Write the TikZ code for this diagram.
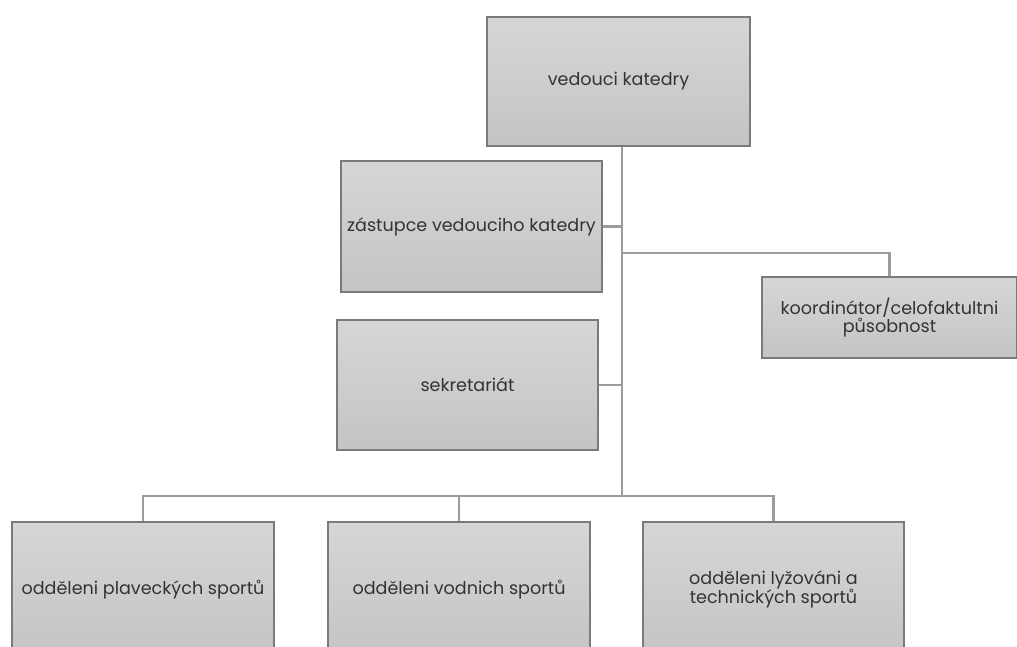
\documentclass[tikz,border=0pt]{standalone}
\usepackage{fontspec}
\setmainfont{Poppins}
\usepackage{tikz}
\definecolor{boxline}{HTML}{7A7A7A}
\definecolor{boxtop}{HTML}{D6D6D6}
\definecolor{boxbot}{HTML}{C4C4C4}
\definecolor{wire}{HTML}{9C9C9C}
\tikzset{
  orgbox/.style={draw=boxline, line width=0.9pt, top color=boxtop, bottom color=boxbot,
    align=center, inner sep=1pt, font=\fontsize{10}{10.8}\selectfont\color{black!80}},
  wireline/.style={draw=wire, line width=1.3pt}
}
\begin{document}
\begin{tikzpicture}[x=0.02cm,y=-0.02cm]
\useasboundingbox (0,0) rectangle (1017,646);
\node[orgbox, minimum width=5.26cm, minimum height=2.58cm] (chief) at(618.5,81.5) {vedouci katedry};
\node[orgbox, minimum width=5.22cm, minimum height=2.62cm] (deputy) at(471.5,226.5) {zástupce vedouciho katedry};
\node[orgbox, minimum width=5.22cm, minimum height=2.6cm] (secr) at(467.5,385) {sekretariát};
\node[orgbox, minimum width=5.1cm, minimum height=1.62cm] (coord) at(889.5,317.5) {koordinátor/celofaktultni\\působnost};
\node[orgbox, minimum width=5.24cm, minimum height=2.7cm] (plav) at(143,589.5) {odděleni plaveckých sportů};
\node[orgbox, minimum width=5.24cm, minimum height=2.7cm] (vod) at(459,589.5) {odděleni vodnich sportů};
\node[orgbox, minimum width=5.22cm, minimum height=2.7cm] (lyz) at(773.5,589.5) {odděleni lyžováni a\\technických sportů};
\coordinate (branch) at(622,253);
\coordinate (bus) at(622,496);
\draw [wireline] (chief.south -| bus) -- (bus);
\draw [wireline] (deputy.east) -- (deputy.east -| bus);
\draw [wireline] (secr.east) -- (secr.east -| bus);
\draw [wireline] (branch) -| (coord.north);
\draw [wireline] (plav.north) |- (lyz.north |- bus) -- (lyz.north);
\draw [wireline] (vod.north) -- (vod.north |- bus);
\end{tikzpicture}
\end{document}
